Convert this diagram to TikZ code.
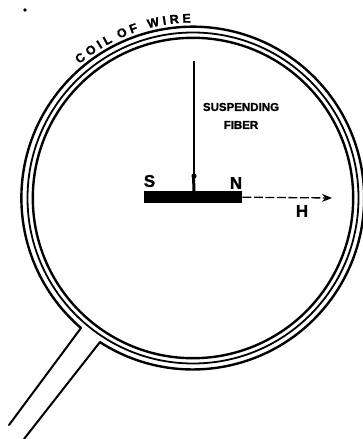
\documentclass[tikz,border=0pt]{standalone}
\usepackage{fontspec}
\setmainfont{Liberation Sans}
\newfontfamily\heavy{Liberation Sans}[UprightFont=* Bold,FakeBold=1.2]
\usetikzlibrary{decorations.text,arrows.meta}
\tikzset{
  coilo/.style={line width=2.4pt},
  coili/.style={line width=1.8pt},
  wire/.style={line width=2pt,line cap=round},
  lab/.style={font=\heavy\fontsize{#1}{#1}\selectfont,inner sep=0pt},
}
\begin{document}
\begin{tikzpicture}[x=1pt,y=-1pt]
\useasboundingbox (0,0) rectangle (362,439);
\fill (25,10) circle (1.8);
% coil
\coordinate (c) at (193,198);
\coordinate (la) at (81,328);
\coordinate (lb) at (9,425);
\coordinate (ra) at (100,342);
\coordinate (rb) at (24,439);
\draw[coilo] (la) arc [start angle=130.7,end angle=482.9,radius=171.4];
\draw[coili] (c) circle [radius=165.5];
\draw[coilo] (c) circle [radius=160.2];
% lead
\draw[wire] (lb) -- (la);
\draw[wire] (rb) -- (ra);
% magnet
\node[fill=black,minimum width=98pt,minimum height=12pt,inner sep=0pt,anchor=north west] (mag) at (144,191) {};
\coordinate (top) at (194,61);
\coordinate (foot) at (194,191);
\draw[line width=1.5pt] (top) -- (foot);
\fill (194,176) circle (2.6);
\draw[line width=3pt] (193.5,176) -- (foot);
\coordinate (tip) at (332,198);
\draw[line width=1.3pt,dash pattern=on 9pt off 2.5pt,-{Stealth[length=10pt,width=8pt]}] (mag.east) -- (tip);
% labels
\node[lab=17] (s) at (149.5,181) {S};
\node[lab=17] (n) at (236,183) {N};
\node[lab=17] (h) at (302,211) {H};
\node[lab=11.5] (sf1) at (241,107) {SUSPENDING};
\node[lab=11.5] (sf2) at (241,125) {FIBER};
% arc text
\path[decorate,decoration={text along path,text align={align=center},
  text={|\heavy\fontsize{12.5}{12.5}\selectfont|C O I L{ }{ }O F{ }{ }{ }W I R E}}]
  ([shift={(-131:175.5)}]193,198) arc [start angle=-131,end angle=-90,radius=175.5];
\end{tikzpicture}
\end{document}
